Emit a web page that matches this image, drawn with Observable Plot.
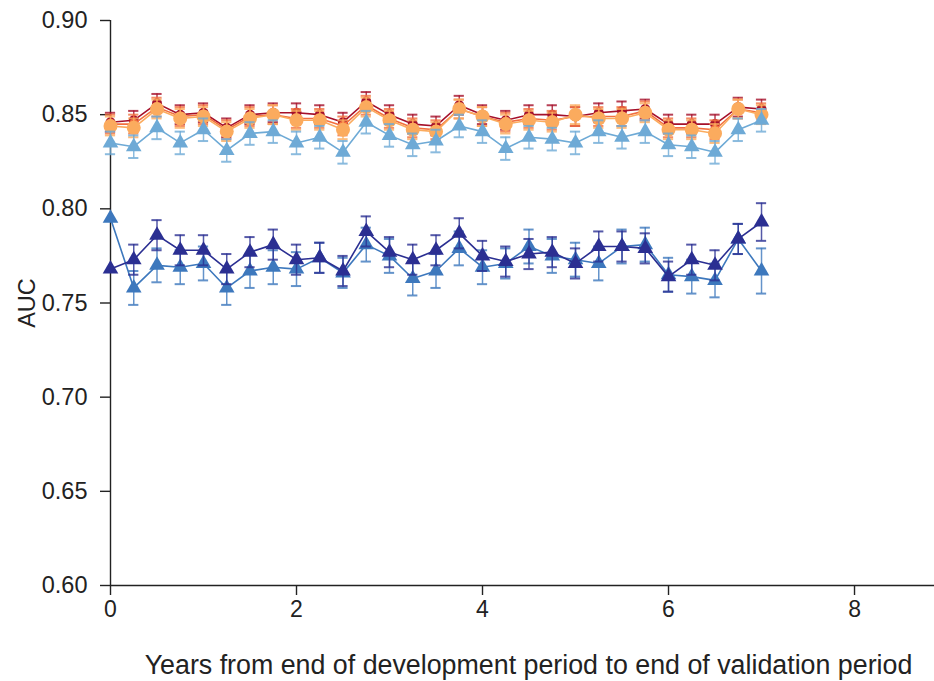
<!DOCTYPE html>
<html><head><meta charset="utf-8">
<script src="https://cdn.jsdelivr.net/npm/d3@7"></script>
<script src="https://cdn.jsdelivr.net/npm/@observablehq/plot@0.6"></script>
<style>body{margin:0;background:#fff}</style>
</head><body><div id="chart"></div>
<script>
const years = [0,0.25,0.5,0.75,1,1.25,1.5,1.75,2,2.25,2.5,2.75,3,3.25,3.5,3.75,4,4.25,4.5,4.75,5,5.25,5.5,5.75,6,6.25,6.5,6.75,7];

const darkRed     = [0.846,0.847,0.856,0.850,0.851,0.843,0.850,0.851,0.851,0.850,0.846,0.857,0.850,0.845,0.844,0.855,0.850,0.847,0.850,0.850,0.849,0.851,0.852,0.853,0.845,0.845,0.845,0.854,0.853];
const orangeRed   = [0.845,0.845,0.854,0.849,0.850,0.842,0.849,0.850,0.848,0.848,0.844,0.855,0.848,0.843,0.842,0.853,0.849,0.846,0.848,0.847,0.849,0.849,0.849,0.852,0.843,0.843,0.842,0.853,0.851];
const lightOrange = [0.844,0.843,0.853,0.848,0.849,0.841,0.848,0.850,0.847,0.847,0.842,0.854,0.847,0.842,0.841,0.853,0.849,0.845,0.847,0.846,0.850,0.848,0.848,0.851,0.842,0.842,0.840,0.853,0.850];
const lightBlue   = [0.835,0.833,0.843,0.835,0.842,0.831,0.840,0.841,0.835,0.838,0.830,0.846,0.839,0.834,0.836,0.844,0.841,0.832,0.838,0.837,0.835,0.841,0.838,0.841,0.834,0.833,0.830,0.842,0.847];
const navy        = [0.768,0.773,0.786,0.778,0.778,0.768,0.777,0.781,0.773,0.774,0.767,0.788,0.777,0.773,0.778,0.787,0.775,0.772,0.776,0.777,0.771,0.780,0.780,0.779,0.764,0.773,0.770,0.784,0.793];
const medBlue     = [0.795,0.758,0.770,0.769,0.771,0.758,0.767,0.769,0.768,0.774,0.766,0.781,0.775,0.763,0.767,0.779,0.769,0.771,0.780,0.775,0.773,0.771,0.780,0.781,0.765,0.764,0.762,0.784,0.767];

// error-bar half widths
const upperErr    = [0.005,0.005,0.005,0.005,0.005,0.005,0.005,0.005,0.005,0.005,0.005,0.005,0.005,0.005,0.005,0.005,0.005,0.005,0.005,0.005,0.005,0.005,0.005,0.005,0.005,0.005,0.005,0.005,0.005];
const lightBlueErr= [0.006,0.006,0.006,0.006,0.006,0.006,0.006,0.006,0.006,0.006,0.006,0.006,0.006,0.006,0.006,0.006,0.006,0.006,0.006,0.006,0.006,0.006,0.006,0.006,0.006,0.006,0.006,0.006,0.006];
const navyErr     = [0,0.008,0.008,0.008,0.008,0.008,0.008,0.008,0.008,0.008,0.008,0.008,0.008,0.008,0.008,0.008,0.008,0.008,0.008,0.008,0.008,0.008,0.008,0.008,0.008,0.008,0.008,0.008,0.010];
const medBlueErr  = [0,0.009,0.009,0.009,0.009,0.009,0.009,0.009,0.009,0.008,0.008,0.009,0.009,0.009,0.009,0.009,0.009,0.008,0.009,0.009,0.009,0.009,0.009,0.009,0.009,0.009,0.009,0.008,0.012];

const yTicks = [0.60,0.65,0.70,0.75,0.80,0.85,0.90];
const xTicks = [0,2,4,6,8];

const series = [
  {values: medBlue,     err: medBlueErr,   color: "#3d78bd", symbol: "triangle", r: 5.8},
  {values: navy,        err: navyErr,      color: "#2b2f92", symbol: "triangle", r: 5.8},
  {values: darkRed,     err: upperErr,     color: "#a5102a", symbol: "circle",   r: 5},
  {values: orangeRed,   err: upperErr,     color: "#f2703f", symbol: "circle",   r: 5},
  {values: lightOrange, err: upperErr,     color: "#fbab5e", symbol: "circle",   r: 7},
  {values: lightBlue,   err: lightBlueErr, color: "#6eaad6", symbol: "triangle", r: 5.8}
];

const marks = [];
for (const s of series) {
  const rows = years.map((x, i) => ({x, y: s.values[i], e: s.err[i]}));
  const eb = rows.filter(d => d.e > 0);
  marks.push(Plot.ruleX(eb, {x: "x", y1: d => d.y - d.e, y2: d => d.y + d.e, stroke: s.color, strokeWidth: 1.5, strokeOpacity: 0.8}));
  marks.push(Plot.ruleY(eb, {y: d => d.y + d.e, x1: d => d.x - 0.055, x2: d => d.x + 0.055, stroke: s.color, strokeWidth: 2, strokeOpacity: 0.8}));
  marks.push(Plot.ruleY(eb, {y: d => d.y - d.e, x1: d => d.x - 0.055, x2: d => d.x + 0.055, stroke: s.color, strokeWidth: 2, strokeOpacity: 0.8}));
  marks.push(Plot.line(rows, {x: "x", y: "y", stroke: s.color, strokeWidth: 1.6}));
  marks.push(Plot.dot(rows, {x: "x", y: "y", fill: s.color, stroke: "none", symbol: s.symbol, r: s.r}));
}

const chart = Plot.plot({
  width: 934,
  height: 681,
  marginLeft: 110,
  marginRight: 0,
  marginTop: 20,
  marginBottom: 96,
  x: {domain: [0, 8.86]},
  y: {domain: [0.6, 0.9]},
  style: {fontFamily: "'Liberation Sans', Arial, sans-serif", fontSize: "23px", color: "#222", background: "white"},
  marks: [
    Plot.axisY({ticks: yTicks, tickFormat: d3.format(".2f"), tickSize: 10, tickPadding: 13, strokeWidth: 1.4,
      label: "AUC", labelAnchor: "center", labelArrow: "none", labelOffset: 92, fontSize: 23.5}),
    Plot.axisX({ticks: xTicks, tickFormat: d3.format("d"), tickSize: 10, tickPadding: 5, strokeWidth: 1.4,
      label: null, fontSize: 23}),
    Plot.text(["Years from end of development period to end of validation period"], {
      frameAnchor: "bottom", dy: 88, dx: 6, text: d => d, fontSize: 26.8, textAnchor: "middle", lineAnchor: "bottom", fill: "#222"}),
    Plot.ruleX([0], {stroke: "#222", strokeWidth: 1.4}),
    Plot.ruleY([0.6], {stroke: "#222", strokeWidth: 1.4}),
    ...marks
  ]
});
document.getElementById("chart").appendChild(chart);
</script>
</body></html>
